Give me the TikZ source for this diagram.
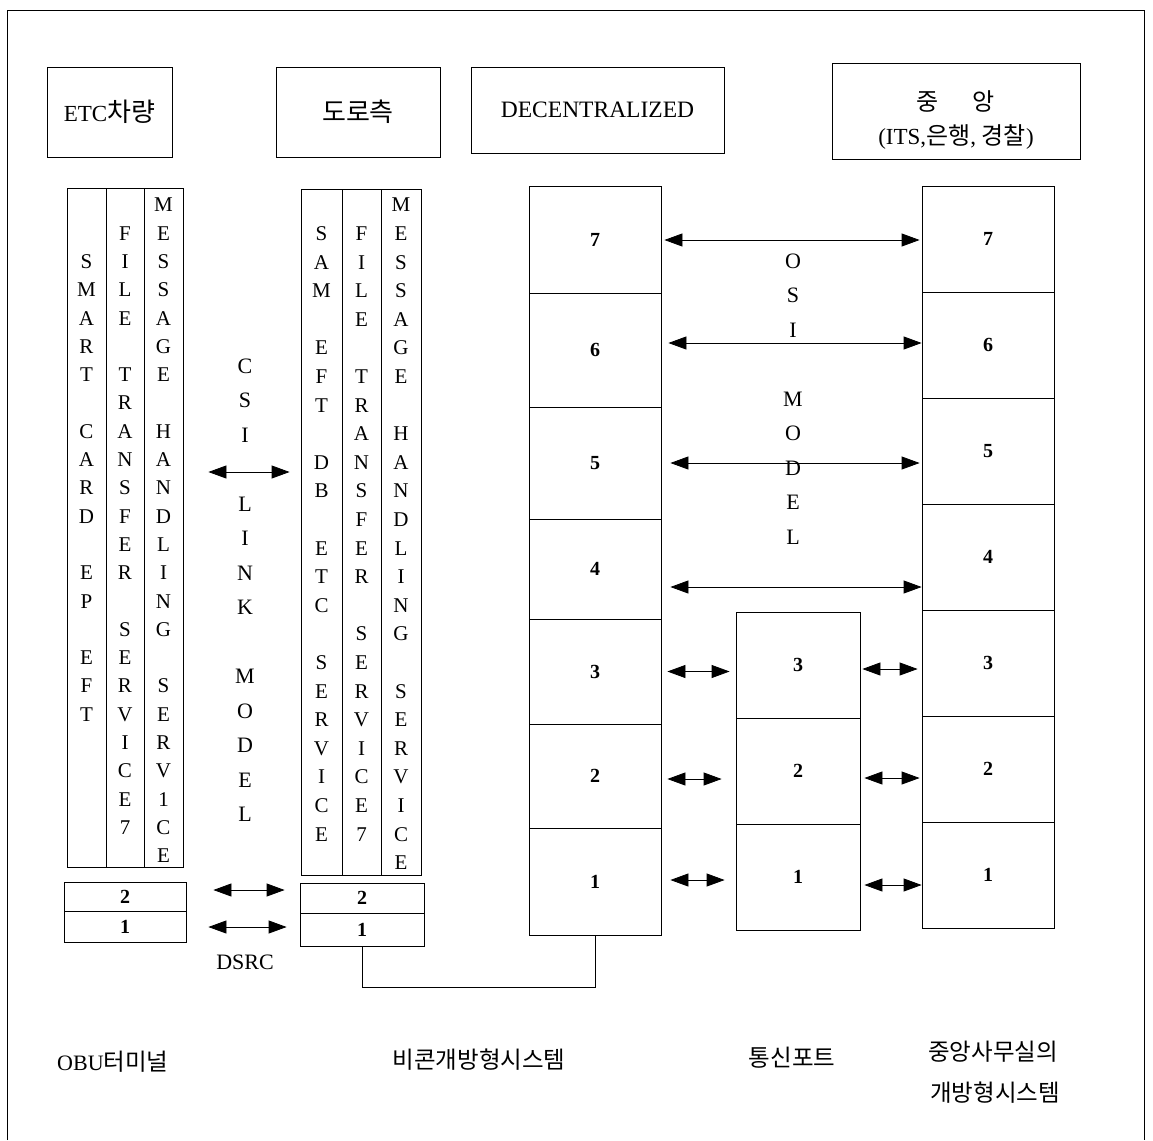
\documentclass[tikz,border=0pt]{standalone}
\usepackage{fontspec}
\setmainfont{Liberation Serif}
\newfontfamily\kr{Noto Sans CJK KR}
\usetikzlibrary{arrows.meta}
\tikzset{
 ln/.style={line width=0.8pt},
 hbox/.style={draw, line width=0.8pt, inner sep=0pt},
 cell/.style={draw, line width=0.8pt, inner sep=0pt, font=\fontsize{20}{20}\selectfont\bfseries},
 col/.style={draw, line width=0.8pt, inner sep=0pt},
 letter/.style={inner sep=0pt, font=\fontsize{21}{21}\selectfont},
 bigletter/.style={inner sep=0pt, font=\fontsize{22}{22}\selectfont},
 dbl/.style={{Triangle[length=18pt,width=13pt]}-{Triangle[length=18pt,width=13pt]}, line width=0.8pt},
 lbl/.style={inner sep=0pt, font=\fontsize{22}{22}\selectfont},
 klbl/.style={inner sep=0pt, font=\kr\fontsize{23.5}{23.5}\selectfont},
}
\newcommand\mkcell[7]{\node[#1, minimum width={#5-#3}, minimum height={#6-#4}] (#2) at ({(#3+#5)/2},{(#4+#6)/2}) {#7};}
\newcommand\vtext[6]{\foreach \c [count=\i from 0] in {#6} {\node[#1] (#2-\i) at (#3, {#4+\i*#5}) {\c};}}
\begin{document}
\begin{tikzpicture}[x=1pt,y=-1pt]
\useasboundingbox (0,0) rectangle (1153,1140);
% frame
\draw[ln] (7,1140) -- (7,10) -- (1144,10) -- (1144,1140);
% headers
\mkcell{hbox, font=\fontsize{23}{23}\selectfont}{hETC}{47}{67}{172}{157}{ETC{\kr\fontsize{26}{26}\selectfont 차량}}
\mkcell{hbox, font=\kr\fontsize{26}{26}\selectfont}{hRoad}{276}{67}{440}{157}{도로측}
\mkcell{hbox, font=\fontsize{23.5}{23.5}\selectfont}{hDec}{471}{67}{724}{153}{DECENTRALIZED}
\mkcell{hbox}{hCen}{832}{63}{1080}{159}{}
\node[inner sep=0pt, font=\kr\fontsize{24}{24}\selectfont] (cen1) at (956,101) {중\hspace{34pt}앙};
\node[inner sep=0pt, font=\fontsize{23}{23}\selectfont] (cen2) at (956,137) {(ITS,{\kr\fontsize{24}{24}\selectfont 은행}, {\kr\fontsize{24}{24}\selectfont 경찰})};
% ETC columns
\mkcell{col}{e1}{67}{188}{106}{867}{}
\mkcell{col}{e2}{106}{188}{144}{867}{}
\mkcell{col}{e3}{144}{188}{183}{867}{}
\vtext{letter}{ea}{86.5}{205}{28.3}{~,~,S,M,A,R,T,~,C,A,R,D,~,E,P,~,E,F,T}
\vtext{letter}{eb}{125}{205}{28.3}{~,F,I,L,E,~,T,R,A,N,S,F,E,R,~,S,E,R,V,I,C,E,7}
\vtext{letter}{ec}{163.5}{205}{28.3}{M,E,S,S,A,G,E,~,H,A,N,D,L,I,N,G,~,S,E,R,V,1,C,E}
% road columns
\mkcell{col}{r1}{301}{189}{342}{875}{}
\mkcell{col}{r2}{342}{189}{381}{875}{}
\mkcell{col}{r3}{381}{189}{421}{875}{}
\vtext{letter}{ra}{321.5}{205}{28.6}{~,S,A,M,~,E,F,T,~,D,B,~,E,T,C,~,S,E,R,V,I,C,E}
\vtext{letter}{rb}{361.5}{205}{28.6}{~,F,I,L,E,~,T,R,A,N,S,F,E,R,~,S,E,R,V,I,C,E,7}
\vtext{letter}{rc}{401}{205}{28.6}{M,E,S,S,A,G,E,~,H,A,N,D,L,I,N,G,~,S,E,R,V,I,C,E}
% small boxes
\mkcell{cell}{eb2}{64}{882}{186}{911}{2}
\mkcell{cell}{eb1}{64}{911}{186}{942}{1}
\mkcell{cell}{rb2}{300}{883}{424}{913}{2}
\mkcell{cell}{rb1}{300}{913}{424}{946}{1}
% CSI link model
\vtext{bigletter}{csi}{245}{366}{34.5}{C,S,I,~,L,I,N,K,~,M,O,D,E,L}
\path ([yshift=55.5pt]e3.east) coordinate (csiL);
\draw[dbl, shorten <=25pt, shorten >=11pt] (csiL) -- (csiL -| r1.west);
\path ([yshift=6.5pt]eb2.east) coordinate (l2L);
\draw[dbl, shorten <=27pt, shorten >=15pt] (l2L) -- (l2L -| rb2.west);
\path ([yshift=-0.5pt]eb1.east) coordinate (l1L);
\draw[dbl, shorten <=22pt, shorten >=13pt] (l1L) -- (l1L -| rb1.west);
\node[lbl] (dsrc) at (245,962) {DSRC};
% DECENTRALIZED stack
\mkcell{cell}{d7}{529}{186}{661}{293}{7}
\mkcell{cell}{d6}{529}{293}{661}{407}{6}
\mkcell{cell}{d5}{529}{407}{661}{519}{5}
\mkcell{cell}{d4}{529}{519}{661}{619}{4}
\mkcell{cell}{d3}{529}{619}{661}{724}{3}
\mkcell{cell}{d2}{529}{724}{661}{828}{2}
\mkcell{cell}{d1}{529}{828}{661}{935}{1}
% middle stack
\mkcell{cell}{m3}{736}{612}{860}{718}{3}
\mkcell{cell}{m2}{736}{718}{860}{824}{2}
\mkcell{cell}{m1}{736}{824}{860}{930}{1}
% right stack
\mkcell{cell}{c7}{922}{186}{1054}{292}{7}
\mkcell{cell}{c6}{922}{292}{1054}{398}{6}
\mkcell{cell}{c5}{922}{398}{1054}{504}{5}
\mkcell{cell}{c4}{922}{504}{1054}{610}{4}
\mkcell{cell}{c3}{922}{610}{1054}{716}{3}
\mkcell{cell}{c2}{922}{716}{1054}{822}{2}
\mkcell{cell}{c1}{922}{822}{1054}{928}{1}
% OSI model
\vtext{bigletter}{osi}{793}{261}{34.5}{O,S,I,~,M,O,D,E,L}
\path ([yshift=-0.5pt]d7.east) coordinate (a7);
\draw[dbl, shorten <=3pt, shorten >=2pt] (a7) -- (a7 -| c7.west);
\path ([yshift=7pt]d6.east) coordinate (a6);
\draw[dbl, shorten <=7pt] (a6) -- (a6 -| c6.west);
\path (d5.east) coordinate (a5);
\draw[dbl, shorten <=9pt, shorten >=2pt] (a5) -- (a5 -| c5.west);
\path ([yshift=-18pt]d4.east) coordinate (a4);
\draw[dbl, shorten <=9pt] (a4) -- (a4 -| c4.west);
\path (d3.east) coordinate (b3);
\draw[dbl, shorten <=6pt, shorten >=6pt] (b3) -- (b3 -| m3.west);
\path ([yshift=-3pt]d2.east) coordinate (b2);
\draw[dbl, shorten <=6pt, shorten >=14pt] (b2) -- (b2 -| m2.west);
\path ([yshift=1.5pt]d1.east) coordinate (b1);
\draw[dbl, shorten <=9pt, shorten >=11pt] (b1) -- (b1 -| m1.west);
\path ([yshift=-4pt]m3.east) coordinate (g3);
\draw[dbl, shorten <=2pt, shorten >=4pt] (g3) -- (g3 -| c3.west);
\path ([yshift=-7pt]m2.east) coordinate (g2);
\draw[dbl, shorten <=4pt, shorten >=2pt] (g2) -- (g2 -| c2.west);
\path ([yshift=-8pt]m1.east) coordinate (g1);
\draw[dbl, shorten <=4pt] (g1) -- (g1 -| c1.west);
% connector road -> decentralized
\draw[ln] (rb1.south) -- ++(0,41) -| (d1.south);
% bottom labels
\node[lbl, anchor=west] (obu) at (57,1062) {OBU{\kr\fontsize{23.5}{23.5}\selectfont 터미널}};
\node[klbl] (beacon) at (479,1060) {비콘개방형시스템};
\node[klbl] (port) at (792,1058) {통신포트};
\node[klbl] (cenA) at (993,1052) {중앙사무실의};
\node[klbl] (cenB) at (995,1093) {개방형시스템};
\end{tikzpicture}
\end{document}
